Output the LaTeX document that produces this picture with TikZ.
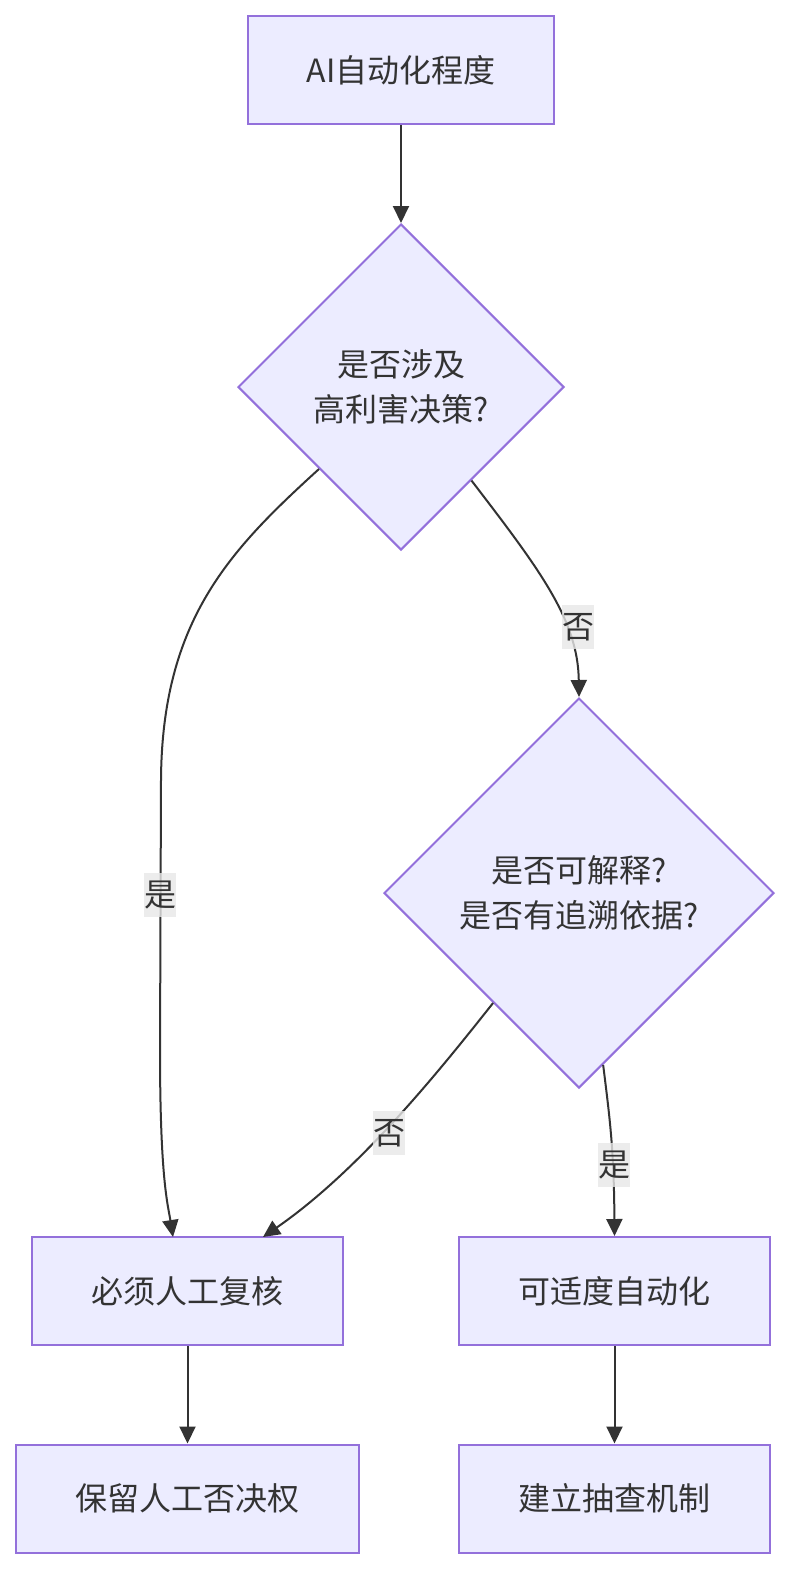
\documentclass[tikz,border=0pt]{standalone}
\usepackage{fontspec}
\setmainfont{Noto Sans CJK SC}
\usetikzlibrary{shapes.geometric,arrows.meta}
\definecolor{nodefill}{HTML}{ECECFF}
\definecolor{nodeborder}{HTML}{9370DB}
\definecolor{linecol}{HTML}{333333}
\definecolor{lblgray}{HTML}{E8E8E8}
\tikzset{
  box/.style={draw=nodeborder, fill=nodefill, line width=2pt, inner sep=0pt, minimum height=108pt, text=linecol, font=\fontsize{32}{44}\selectfont},
  dia/.style={diamond, draw=nodeborder, fill=nodefill, line width=2pt, inner sep=0pt, text=linecol, align=center, font=\fontsize{32}{45}\selectfont},
  conn/.style={draw=linecol, line width=2pt, -{Triangle[length=17pt,width=16pt]}},
  lbl/.style={fill=lblgray, fill opacity=0.8, text opacity=1, text=linecol, inner sep=0pt, minimum width=32pt, minimum height=44pt, font=\fontsize{32}{44}\selectfont}
}
\begin{document}
\begin{tikzpicture}[x=1pt,y=-1pt]
\useasboundingbox (0,0) rectangle (792,1571);
\fill[white] (0,0) rectangle (792,1571);
\node[box, minimum width=306pt] (a) at (401,70) {AI自动化程度};
\node[dia, minimum width=326pt, minimum height=326pt] (d1) at (401,387) {是否涉及\\高利害决策?};
\node[dia, minimum width=390pt, minimum height=390pt] (d2) at (579,893) {是否可解释?\\是否有追溯依据?};
\node[box, minimum width=311pt] (c1) at (187.5,1291) {必须人工复核};
\node[box, minimum width=311pt] (c2) at (614.5,1291) {可适度自动化};
\node[box, minimum width=343pt] (e1) at (187.5,1498.5) {保留人工否决权};
\node[box, minimum width=311pt] (e2) at (614.5,1498.5) {建立抽查机制};
\coordinate (c1a) at (173,1237);
\coordinate (c1b) at (263,1237);
\draw[conn] (a) -- (d1);
\draw[conn] (d1.south west) .. controls (230,550) and (162,620) .. (161,780) -- (160,1050) .. controls (160,1180) and (168,1205) .. (c1a);
\draw[conn] (d1.-53) .. controls (540,570) and (578,620) .. (d2.north);
\draw[conn] (d2.-128) .. controls (440,1070) and (360,1170) .. (c1b);
\draw[conn] (d2.-82.5) .. controls (610,1120) and (614,1150) .. (c2.north);
\draw[conn] (c1) -- (e1);
\draw[conn] (c2) -- (e2);
\node[lbl] (l1) at (160,895) {是};
\node[lbl] (l2) at (578,627) {否};
\node[lbl] (l3) at (389,1133) {否};
\node[lbl] (l4) at (614,1165) {是};
\end{tikzpicture}
\end{document}
